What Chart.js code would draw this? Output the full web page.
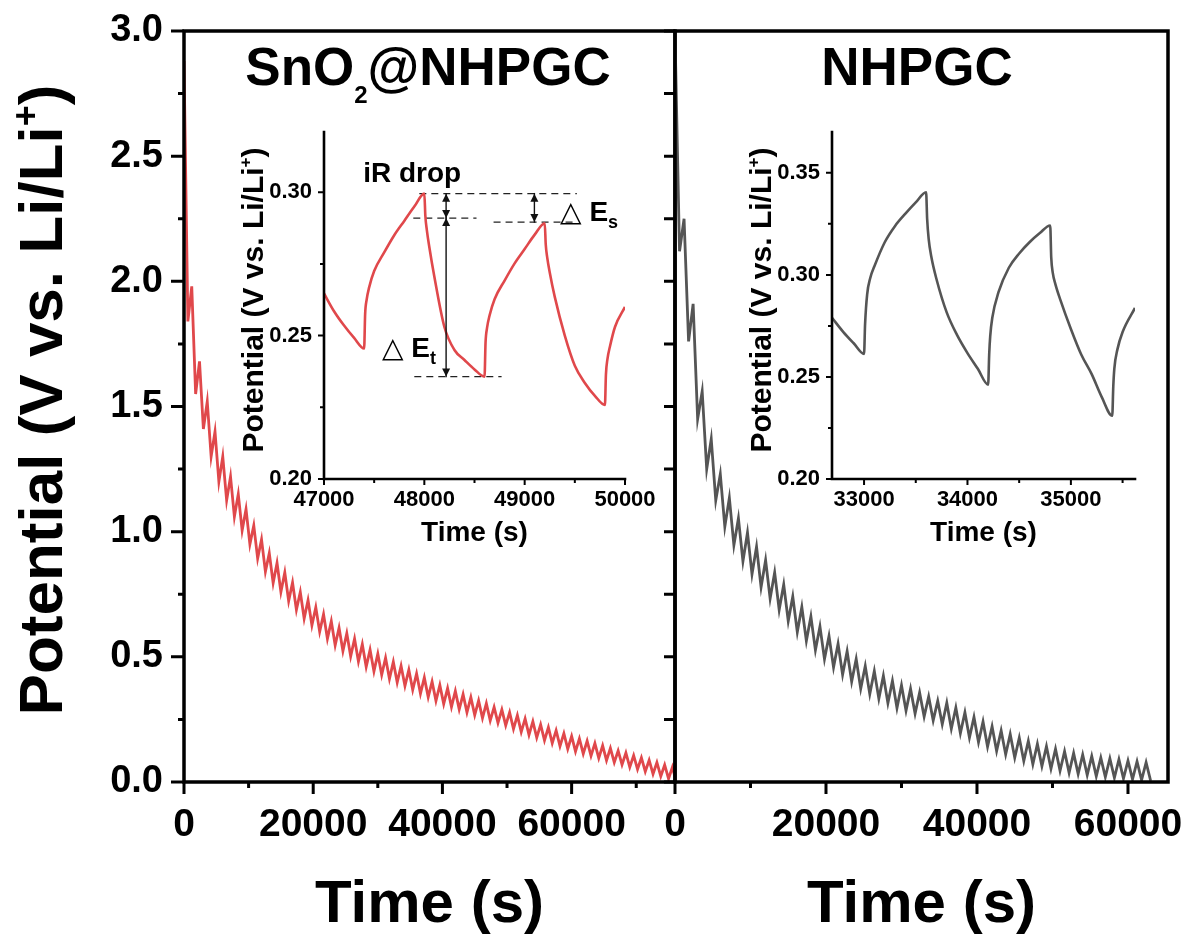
<!DOCTYPE html>
<html>
<head>
<meta charset="utf-8">
<script src="https://cdn.jsdelivr.net/npm/chart.js@4.4.1/dist/chart.umd.min.js"></script>
<style>
  html, body { margin: 0; padding: 0; background: #fff; overflow: hidden; }
  #wrap { position: relative; width: 1187px; height: 940px; }
  canvas { position: absolute; }
</style>
</head>
<body>
<div id="wrap">
  <canvas id="mainSn" width="680" height="940" style="left:0;top:0"></canvas>
  <canvas id="mainN" width="587" height="940" style="left:600px;top:0"></canvas>
  <canvas id="insetSn" width="450" height="450" style="left:220px;top:110px"></canvas>
  <canvas id="insetN" width="430" height="450" style="left:728px;top:110px"></canvas>
</div>
<script>
// ---- SnO2@NHPGC, full GITT discharge (time s / potential V), peaks and troughs
const snTime = [
  0, 600, 1200, 1800, 2400, 3000, 3600, 4200, 4800, 5400,
  6000, 6600, 7200, 7800, 8400, 9000, 9600, 10200, 10800, 11400,
  12000, 12600, 13200, 13800, 14400, 15000, 15600, 16200, 16800, 17400,
  18000, 18600, 19200, 19800, 20400, 21000, 21600, 22200, 22800, 23400,
  24000, 24600, 25200, 25800, 26400, 27000, 27600, 28200, 28800, 29400,
  30000, 30600, 31200, 31800, 32400, 33000, 33600, 34200, 34800, 35400,
  36000, 36600, 37200, 37800, 38400, 39000, 39600, 40200, 40800, 41400,
  42000, 42600, 43200, 43800, 44400, 45000, 45600, 46200, 46800, 47400,
  48000, 48600, 49200, 49800, 50400, 51000, 51600, 52200, 52800, 53400,
  54000, 54600, 55200, 55800, 56400, 57000, 57600, 58200, 58800, 59400,
  60000, 60600, 61200, 61800, 62400, 63000, 63600, 64200, 64800, 65400,
  66000, 66600, 67200, 67800, 68400, 69000, 69600, 70200, 70800, 71400,
  72000, 72600, 73200, 73800, 74400, 75000, 75600, 76000
];
const snPotential = [
  2.88, 1.84, 1.98, 1.55, 1.68, 1.41, 1.52, 1.30, 1.40, 1.20,
  1.30, 1.125, 1.22, 1.06, 1.15, 1.005, 1.09, 0.95, 1.025, 0.893,
  0.969, 0.840, 0.914, 0.795, 0.875, 0.759, 0.837, 0.723, 0.797, 0.688,
  0.759, 0.653, 0.726, 0.626, 0.698, 0.600, 0.670, 0.572, 0.642, 0.546,
  0.616, 0.523, 0.594, 0.502, 0.572, 0.481, 0.550, 0.460, 0.528, 0.442,
  0.512, 0.428, 0.496, 0.412, 0.480, 0.398, 0.464, 0.384, 0.448, 0.368,
  0.433, 0.353, 0.417, 0.339, 0.401, 0.324, 0.387, 0.312, 0.374, 0.300,
  0.363, 0.290, 0.350, 0.278, 0.338, 0.267, 0.325, 0.255, 0.314, 0.245,
  0.299, 0.236, 0.289, 0.226, 0.278, 0.212, 0.266, 0.200, 0.253, 0.188,
  0.242, 0.177, 0.229, 0.166, 0.218, 0.155, 0.206, 0.143, 0.194, 0.132,
  0.183, 0.122, 0.173, 0.113, 0.164, 0.104, 0.154, 0.095, 0.145, 0.086,
  0.135, 0.078, 0.125, 0.069, 0.116, 0.059, 0.106, 0.051, 0.097, 0.042,
  0.087, 0.032, 0.078, 0.023, 0.068, 0.013, 0.059, 0.020
];

// ---- NHPGC, full GITT discharge
const nTime = [
  0, 600, 1200, 1800, 2400, 3000, 3600, 4200, 4800, 5400,
  6000, 6600, 7200, 7800, 8400, 9000, 9600, 10200, 10800, 11400,
  12000, 12600, 13200, 13800, 14400, 15000, 15600, 16200, 16800, 17400,
  18000, 18600, 19200, 19800, 20400, 21000, 21600, 22200, 22800, 23400,
  24000, 24600, 25200, 25800, 26400, 27000, 27600, 28200, 28800, 29400,
  30000, 30600, 31200, 31800, 32400, 33000, 33600, 34200, 34800, 35400,
  36000, 36600, 37200, 37800, 38400, 39000, 39600, 40200, 40800, 41400,
  42000, 42600, 43200, 43800, 44400, 45000, 45600, 46200, 46800, 47400,
  48000, 48600, 49200, 49800, 50400, 51000, 51600, 52200, 52800, 53400,
  54000, 54600, 55200, 55800, 56400, 57000, 57600, 58200, 58800, 59400,
  60000, 60600, 61200, 61800, 62400, 63000
];
const nPotential = [
  2.99, 2.12, 2.25, 1.76, 1.91, 1.45, 1.56, 1.25, 1.37, 1.125,
  1.23, 1.02, 1.135, 0.946, 1.053, 0.882, 0.996, 0.830, 0.940, 0.778,
  0.886, 0.733, 0.837, 0.688, 0.789, 0.643, 0.741, 0.599, 0.699, 0.564,
  0.661, 0.527, 0.621, 0.491, 0.583, 0.458, 0.552, 0.429, 0.522, 0.401,
  0.491, 0.373, 0.463, 0.351, 0.443, 0.333, 0.424, 0.315, 0.404, 0.296,
  0.386, 0.285, 0.372, 0.273, 0.357, 0.261, 0.341, 0.246, 0.324, 0.231,
  0.316, 0.213, 0.297, 0.195, 0.278, 0.177, 0.259, 0.159, 0.241, 0.141,
  0.222, 0.124, 0.205, 0.110, 0.191, 0.097, 0.177, 0.084, 0.164, 0.071,
  0.152, 0.063, 0.142, 0.053, 0.132, 0.045, 0.122, 0.037, 0.115, 0.032,
  0.109, 0.028, 0.103, 0.023, 0.097, 0.020, 0.094, 0.017, 0.090, 0.014,
  0.085, 0.011, 0.082, 0.008, 0.078, 0.005
];

// ---- insets (zoomed pulses)
const insetSnTime = [47000, 47100, 47200, 47300, 47400, 47410, 47425, 47450, 47500, 47600, 47700, 47800, 47900, 48000,
  48010, 48025, 48050, 48100, 48200, 48300, 48400, 48500, 48600, 48610, 48625, 48650, 48700, 48800, 48900, 49000, 49100, 49200,
  49210, 49225, 49250, 49300, 49400, 49500, 49600, 49700, 49800, 49810, 49825, 49850, 49900, 50000];
const insetSnPotential = [0.2647, 0.2585, 0.2535, 0.2492, 0.2455, 0.2575, 0.2625, 0.2668, 0.2725, 0.2790, 0.2850, 0.2900, 0.2950, 0.2995,
  0.2918, 0.2868, 0.2808, 0.2705, 0.2530, 0.2450, 0.2415, 0.2382, 0.2357, 0.2475, 0.2527, 0.2570, 0.2627, 0.2692, 0.2752, 0.2802, 0.2852, 0.2892,
  0.2818, 0.2772, 0.2720, 0.2635, 0.2500, 0.2395, 0.2335, 0.2290, 0.2258, 0.2365, 0.2418, 0.2462, 0.2530, 0.2600];

const insetNTime = [32690, 32800, 32900, 33000, 33010, 33030, 33060, 33100, 33200, 33300, 33400, 33500, 33600,
  33610, 33625, 33650, 33700, 33800, 33900, 34000, 34100, 34200, 34210, 34220, 34240, 34300, 34400, 34500, 34600, 34700, 34800,
  34810, 34825, 34850, 34900, 35000, 35100, 35200, 35300, 35400, 35410, 35420, 35450, 35500, 35620];
const insetNPotential = [0.2790, 0.2720, 0.2665, 0.2613, 0.2760, 0.2905, 0.2985, 0.3042, 0.3160, 0.3240, 0.3300, 0.3355, 0.3405,
  0.3275, 0.3175, 0.3090, 0.2980, 0.2815, 0.2705, 0.2617, 0.2540, 0.2462, 0.2610, 0.2700, 0.2790, 0.2915, 0.3035, 0.3105, 0.3160, 0.3205, 0.3242,
  0.3085, 0.3010, 0.2955, 0.2875, 0.2735, 0.2610, 0.2515, 0.2400, 0.2310, 0.2454, 0.2540, 0.2635, 0.2720, 0.2838];

// guide lines in the SnO2 inset (dashed levels, double arrows)
const dashLevel = [0.2995, 0.2910, 0.2896, 0.2357];
const dashFrom = [47950, 47890, 48690, 47900];
const dashTo = [49520, 48520, 49520, 48770];
const arrowTime = [48217, 48217, 49097];
const arrowFrom = [0.2995, 0.2910, 0.2995];
const arrowTo = [0.2910, 0.2357, 0.2896];

// tick values
const mainXMajor = [0, 20000, 40000, 60000];
const mainXMinorSn = [10000, 30000, 50000, 70000];
const mainXMinorN = [10000, 30000, 50000];
const mainYMajor = [0, 0.5, 1.0, 1.5, 2.0, 2.5, 3.0];
const mainYMinor = [0.25, 0.75, 1.25, 1.75, 2.25, 2.75];
const insetSnXMajor = [47000, 48000, 49000, 50000];
const insetSnXMinor = [47500, 48500, 49500];
const insetSnYMajor = [0.20, 0.25, 0.30];
const insetSnYMinor = [0.225, 0.275];
const insetNXMajor = [33000, 34000, 35000];
const insetNXMinor = [33500, 34500, 35500];
const insetNYMajor = [0.20, 0.25, 0.30, 0.35];
const insetNYMinor = [0.225, 0.275, 0.325];

const FONT = "'Liberation Sans', Arial, Helvetica, sans-serif";
const RED = '#e0484b';
const GREY = '#555555';

Chart.defaults.font.family = FONT;
Chart.defaults.color = '#000';
Chart.defaults.animation = false;

const pts = (xs, ys) => xs.map((x, i) => ({ x, y: ys[i] }));
const fontOf = p => `${p.w || 'bold'} ${p.s}px ${p.f || FONT}`;

function richText(ctx, parts, x, y, align) {
  let total = 0;
  const widths = parts.map(p => { ctx.font = fontOf(p); const w = ctx.measureText(p.t).width; total += w; return w; });
  let cx = align === 'center' ? x - total / 2 : x;
  ctx.textBaseline = 'alphabetic';
  ctx.textAlign = 'left';
  parts.forEach((p, i) => { ctx.font = fontOf(p); ctx.fillText(p.t, cx, y + (p.dy || 0)); cx += widths[i]; });
}

function fixSize(w, h) {
  return scale => {
    if (w != null) scale.width = w;
    if (h != null) scale.height = h;
    scale.paddingLeft = 0; scale.paddingRight = 0; scale.paddingTop = 0; scale.paddingBottom = 0;
  };
}

const hiddenGrid = len => ({ display: true, drawOnChartArea: false, drawTicks: true, tickLength: len, color: 'rgba(0,0,0,0)' });

function axesPlugin(o) {
  return {
    id: 'axes_' + o.key,
    afterDatasetsDraw(chart) {
      const { ctx, chartArea: a, scales: { x, y } } = chart;
      ctx.save();
      ctx.strokeStyle = '#000';
      ctx.fillStyle = '#000';
      ctx.lineWidth = o.tickWidth;
      ctx.lineCap = 'butt';
      ctx.beginPath();
      const xt = (vals, len) => vals.forEach(v => { const p = x.getPixelForValue(v); ctx.moveTo(p, a.bottom); ctx.lineTo(p, a.bottom + len); });
      const yt = (vals, len) => vals.forEach(v => { const p = y.getPixelForValue(v); ctx.moveTo(a.left, p); ctx.lineTo(a.left - len, p); });
      xt(o.xMajor, o.xLen[0]); xt(o.xMinor, o.xLen[1]);
      yt(o.yMajor, o.yLen[0]); yt(o.yMinor, o.yLen[1]);
      ctx.stroke();
      ctx.lineWidth = o.frameWidth;
      ctx.lineCap = 'square';
      ctx.lineJoin = 'miter';
      ctx.beginPath();
      if (o.box) {
        ctx.rect(a.left, a.top, a.right - a.left, a.bottom - a.top);
      } else {
        ctx.moveTo(a.left, a.top); ctx.lineTo(a.left, a.bottom); ctx.lineTo(a.right, a.bottom);
      }
      ctx.stroke();
      if (o.extra) o.extra(chart, ctx);
      ctx.restore();
    }
  };
}

function mainChart(id, data, color, xMax, xMinor, pad, yWidth, showYLabels, extra) {
  return new Chart(document.getElementById(id), {
    type: 'line',
    data: { datasets: [{ data: pts(data[0], data[1]), borderColor: color, borderWidth: 2.8, pointRadius: 0, tension: 0 }] },
    options: {
      responsive: false,
      events: [],
      layout: { padding: pad },
      plugins: { legend: { display: false }, tooltip: { enabled: false } },
      scales: {
        x: {
          type: 'linear', min: 0, max: xMax,
          afterBuildTicks: s => { s.ticks = mainXMajor.map(v => ({ value: v })); },
          afterFit: fixSize(null, 158),
          grid: hiddenGrid(12),
          border: { display: false },
          ticks: { font: { size: 39, weight: 'bold' }, padding: 8, maxRotation: 0, autoSkip: false, callback: v => String(v) },
          title: { display: true, text: 'Time (s)', font: { size: 60, weight: 'bold', lineHeight: 1 }, padding: { top: 0, bottom: 5 } }
        },
        y: {
          type: 'linear', min: 0, max: 3,
          afterBuildTicks: s => { s.ticks = mainYMajor.map(v => ({ value: v })); },
          afterFit: fixSize(yWidth, null),
          grid: hiddenGrid(showYLabels ? 13 : 0),
          border: { display: false },
          ticks: { display: showYLabels, font: { size: 38, weight: 'bold' }, padding: 8, autoSkip: false, callback: v => v.toFixed(1) }
        }
      }
    },
    plugins: [axesPlugin({
      key: id, box: true, frameWidth: 3.5, tickWidth: 3,
      xMajor: mainXMajor, xMinor: xMinor, xLen: [12, 6],
      yMajor: mainYMajor, yMinor: mainYMinor, yLen: showYLabels ? [13, 6] : [11, 11],
      extra
    })]
  });
}

function insetChart(id, datasets, xMin, xMax, yMax, xMajor, xMinor, yMajor, yMinor, padRight, extra) {
  return new Chart(document.getElementById(id), {
    type: 'line',
    data: { datasets },
    options: {
      responsive: false,
      events: [],
      layout: { padding: { left: 0, top: 22, right: padRight, bottom: 0 } },
      plugins: { legend: { display: false }, tooltip: { enabled: false } },
      scales: {
        x: {
          type: 'linear', min: xMin, max: xMax,
          afterBuildTicks: s => { s.ticks = xMajor.map(v => ({ value: v })); },
          afterFit: fixSize(null, 81),
          grid: hiddenGrid(6),
          border: { display: false },
          ticks: { font: { size: 22, weight: 'bold' }, padding: 2, maxRotation: 0, autoSkip: false, callback: v => String(v) },
          title: { display: true, text: 'Time (s)', font: { size: 28, weight: 'bold', lineHeight: 1 }, padding: { top: 0, bottom: 13 } }
        },
        y: {
          type: 'linear', min: 0.2, max: yMax,
          afterBuildTicks: s => { s.ticks = yMajor.map(v => ({ value: v })); },
          afterFit: fixSize(104, null),
          grid: hiddenGrid(6),
          border: { display: false },
          ticks: { font: { size: 22, weight: 'bold' }, padding: 6, autoSkip: false, callback: v => v.toFixed(2) }
        }
      }
    },
    plugins: [axesPlugin({
      key: id, box: false, frameWidth: 2.6, tickWidth: 2,
      xMajor, xMinor, xLen: [6, 4], yMajor, yMinor, yLen: [6, 4], extra
    })]
  });
}

function yTitle(ctx, x, y, size, supSize, supDy) {
  ctx.save();
  ctx.translate(x, y);
  ctx.rotate(-Math.PI / 2);
  ctx.fillStyle = '#000';
  richText(ctx, [{ t: 'Potential (V vs. Li/Li', s: size }, { t: '+', s: supSize, dy: supDy }, { t: ')', s: size }], 0, 0, 'center');
  ctx.restore();
}

// ---- main panels
mainChart('mainSn', [snTime, snPotential], RED, 76000, mainXMinorSn,
  { left: 0, top: 31, right: 5, bottom: 0 }, 184, true,
  (chart, ctx) => {
    yTitle(ctx, 62, 400, 62, 36, -24);
    ctx.fillStyle = '#000';
    richText(ctx, [{ t: 'SnO', s: 53 }, { t: '2', s: 24, dy: 18 }, { t: '@NHPGC', s: 53 }], 428, 85, 'center');
  });

mainChart('mainN', [nTime, nPotential], GREY, 65300, mainXMinorN,
  { left: 0, top: 31, right: 19, bottom: 0 }, 75, false,
  (chart, ctx) => {
    ctx.fillStyle = '#000';
    richText(ctx, [{ t: 'NHPGC', s: 53 }], 317, 85, 'center');
  });

// ---- insets
const dashSets = dashLevel.map((v, i) => ({
  data: [{ x: dashFrom[i], y: v }, { x: dashTo[i], y: v }],
  borderColor: '#222', borderWidth: 1.3, borderDash: [7, 5], pointRadius: 0
}));

insetChart('insetSn',
  [{ data: pts(insetSnTime, insetSnPotential), borderColor: RED, borderWidth: 2.6, pointRadius: 0, cubicInterpolationMode: 'monotone' }].concat(dashSets),
  47000, 50000, 0.321, insetSnXMajor, insetSnXMinor, insetSnYMajor, insetSnYMinor, 45,
  (chart, ctx) => {
    const { x, y } = chart.scales;
    yTitle(ctx, 43, 190, 30, 17, -12);
    // double arrows
    ctx.strokeStyle = '#111';
    ctx.fillStyle = '#111';
    ctx.lineWidth = 1.4;
    const head = (px, py, dir) => {
      ctx.beginPath(); ctx.moveTo(px, py); ctx.lineTo(px - 4, py - dir * 8); ctx.lineTo(px + 4, py - dir * 8); ctx.closePath(); ctx.fill();
    };
    arrowTime.forEach((t, i) => {
      const px = x.getPixelForValue(t);
      const p0 = y.getPixelForValue(arrowFrom[i]);
      const p1 = y.getPixelForValue(arrowTo[i]);
      ctx.beginPath(); ctx.moveTo(px, p0); ctx.lineTo(px, p1); ctx.stroke();
      head(px, p0, -1); head(px, p1, 1);
    });
    // labels
    ctx.fillStyle = '#000';
    richText(ctx, [{ t: 'iR drop', s: 28 }], x.getPixelForValue(47390), y.getPixelForValue(0.3035), 'left');
    richText(ctx, [{ t: '\u25B3', s: 28, w: 'normal', f: "'DejaVu Sans'" }, { t: ' E', s: 28 }, { t: 't', s: 18, dy: 7 }],
      x.getPixelForValue(47578), y.getPixelForValue(0.2425), 'left');
    richText(ctx, [{ t: '\u25B3', s: 28, w: 'normal', f: "'DejaVu Sans'" }, { t: ' E', s: 28 }, { t: 's', s: 18, dy: 7 }],
      x.getPixelForValue(49353), y.getPixelForValue(0.2899), 'left');
  });

insetChart('insetN',
  [{ data: pts(insetNTime, insetNPotential), borderColor: GREY, borderWidth: 2.6, pointRadius: 0, cubicInterpolationMode: 'monotone' }],
  32690, 35620, 0.370, insetNXMajor, insetNXMinor, insetNYMajor, insetNYMinor, 23,
  (chart, ctx) => {
    yTitle(ctx, 43, 190, 30, 17, -12);
  });
</script>
</body>
</html>
